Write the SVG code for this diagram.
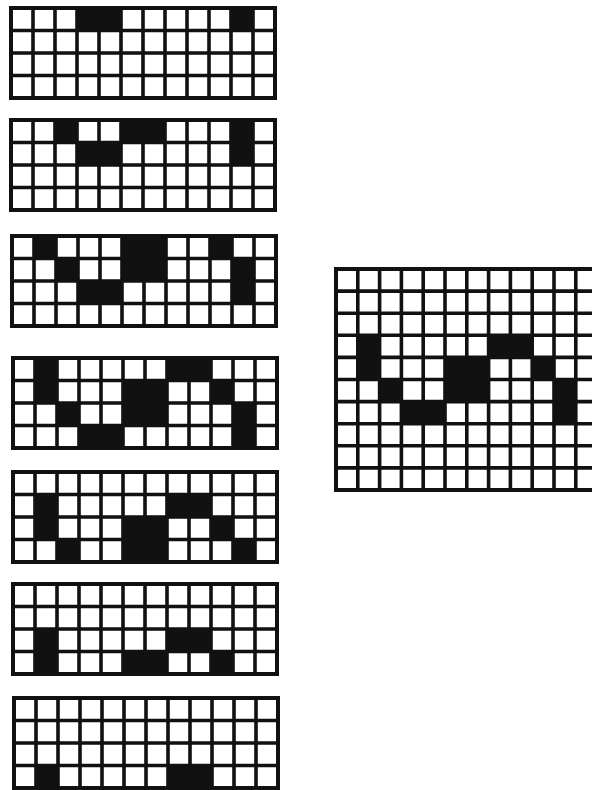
<svg xmlns="http://www.w3.org/2000/svg" xmlns:xlink="http://www.w3.org/1999/xlink" width="592" height="790" viewBox="0 0 592 790">
<style>
.c{fill:#111}
.ln{fill:none;stroke:#111;stroke-width:3.6}
.bd{fill:none;stroke:#111;stroke-width:4}
</style>
<defs>
<g id="small">
<path class="ln" d="M22 0V90M44 0V90M66 0V90M88 0V90M110 0V90M132 0V90M154 0V90M176 0V90M198 0V90M220 0V90M242 0V90M0 22.5H264M0 45H264M0 67.5H264"/>
<rect class="bd" x="0" y="0" width="264" height="90"/>
</g>
<g id="big">
<path class="ln" d="M21.8 0V221M43.6 0V221M65.4 0V221M87.2 0V221M109 0V221M130.8 0V221M152.6 0V221M174.4 0V221M196.2 0V221M218 0V221M239.8 0V221M0 22.1H262M0 44.2H262M0 66.3H262M0 88.4H262M0 110.5H262M0 132.6H262M0 154.7H262M0 176.8H262M0 198.9H262"/>
<rect class="bd" x="0" y="0" width="261.6" height="221"/>
</g>
</defs>
<rect width="592" height="790" fill="#fff"/>
<g id="grid1" transform="translate(11,8)">
<rect class="c" x="66" y="0" width="44" height="22.5"/>
<rect class="c" x="220" y="0" width="22" height="22.5"/>
<use xlink:href="#small"/>
</g>
<g id="grid2" transform="translate(11,120)">
<rect class="c" x="44" y="0" width="22" height="22.5"/>
<rect class="c" x="110" y="0" width="44" height="22.5"/>
<rect class="c" x="220" y="0" width="22" height="45"/>
<rect class="c" x="66" y="22.5" width="44" height="22.5"/>
<use xlink:href="#small"/>
</g>
<g id="grid3" transform="translate(12,236)">
<rect class="c" x="22" y="0" width="22" height="22.5"/>
<rect class="c" x="110" y="0" width="44" height="45"/>
<rect class="c" x="198" y="0" width="22" height="22.5"/>
<rect class="c" x="44" y="22.5" width="22" height="22.5"/>
<rect class="c" x="220" y="22.5" width="22" height="45"/>
<rect class="c" x="66" y="45" width="44" height="22.5"/>
<use xlink:href="#small"/>
</g>
<g id="grid4" transform="translate(13,358)">
<rect class="c" x="22" y="0" width="22" height="45"/>
<rect class="c" x="154" y="0" width="44" height="22.5"/>
<rect class="c" x="110" y="22.5" width="44" height="45"/>
<rect class="c" x="198" y="22.5" width="22" height="22.5"/>
<rect class="c" x="44" y="45" width="22" height="22.5"/>
<rect class="c" x="220" y="45" width="22" height="45"/>
<rect class="c" x="66" y="67.5" width="44" height="22.5"/>
<use xlink:href="#small"/>
</g>
<g id="grid5" transform="translate(13,472)">
<rect class="c" x="22" y="22.5" width="22" height="45"/>
<rect class="c" x="154" y="22.5" width="44" height="22.5"/>
<rect class="c" x="110" y="45" width="44" height="45"/>
<rect class="c" x="198" y="45" width="22" height="22.5"/>
<rect class="c" x="44" y="67.5" width="22" height="22.5"/>
<rect class="c" x="220" y="67.5" width="22" height="22.5"/>
<use xlink:href="#small"/>
</g>
<g id="grid6" transform="translate(13,584)">
<rect class="c" x="22" y="45" width="22" height="45"/>
<rect class="c" x="154" y="45" width="44" height="22.5"/>
<rect class="c" x="110" y="67.5" width="44" height="22.5"/>
<rect class="c" x="198" y="67.5" width="22" height="22.5"/>
<use xlink:href="#small"/>
</g>
<g id="grid7" transform="translate(14,698)">
<rect class="c" x="22" y="67.5" width="22" height="22.5"/>
<rect class="c" x="154" y="67.5" width="44" height="22.5"/>
<use xlink:href="#small"/>
</g>
<g id="gridBig" transform="translate(336,269)">
<rect class="c" x="21.8" y="66.3" width="21.8" height="44.2"/>
<rect class="c" x="152.6" y="66.3" width="43.6" height="22.1"/>
<rect class="c" x="109" y="88.4" width="43.6" height="44.2"/>
<rect class="c" x="196.2" y="88.4" width="21.8" height="22.1"/>
<rect class="c" x="43.6" y="110.5" width="21.8" height="22.1"/>
<rect class="c" x="218" y="110.5" width="21.8" height="44.2"/>
<rect class="c" x="65.4" y="132.6" width="43.6" height="22.1"/>
<use xlink:href="#big"/>
</g>
</svg>
